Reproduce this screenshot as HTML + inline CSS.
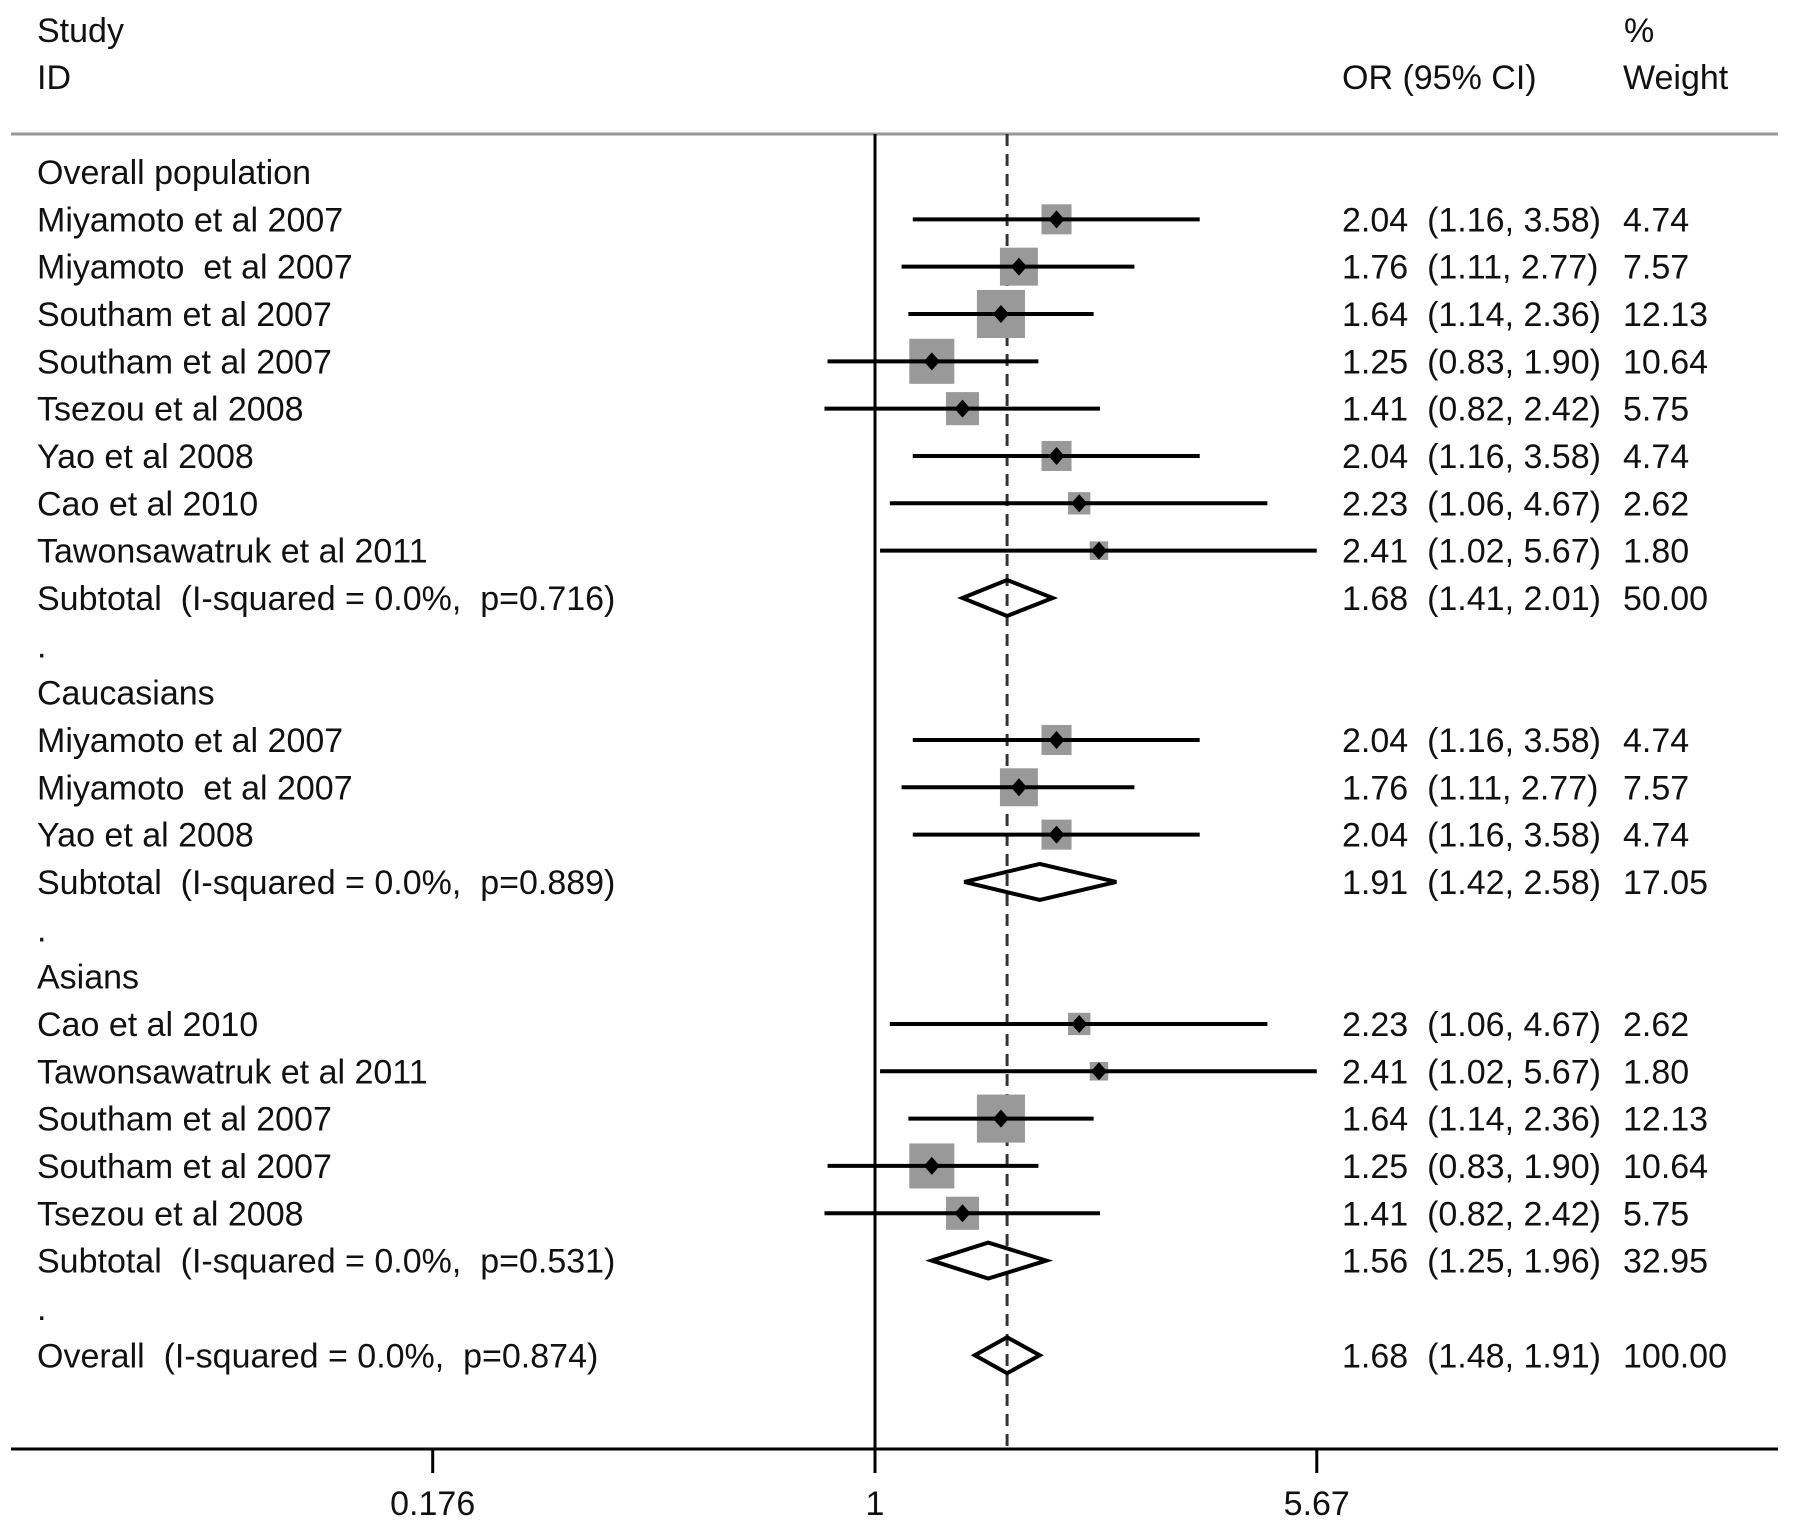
<!DOCTYPE html>
<html><head><meta charset="utf-8"><style>
html,body{margin:0;padding:0;background:#fff;}
svg text{font-family:"Liberation Sans",Arial,sans-serif;font-size:34px;fill:#111;white-space:pre;}
</style></head><body>
<svg id="chart" width="1795" height="1535" xmlns="http://www.w3.org/2000/svg" xml:space="preserve">
<text x="37" y="42">Study</text>
<text x="37" y="89">ID</text>
<text x="1624" y="42">%</text>
<text x="1342" y="89">OR (95% CI)</text>
<text x="1623" y="89">Weight</text>
<line x1="11" y1="134" x2="1778" y2="134" stroke="#999" stroke-width="3"/>
</svg>
<script>
const labels=["Overall population","Miyamoto et al 2007","Miyamoto  et al 2007","Southam et al 2007","Southam et al 2007","Tsezou et al 2008","Yao et al 2008","Cao et al 2010","Tawonsawatruk et al 2011","Subtotal  (I-squared = 0.0%,  p=0.716)",".","Caucasians","Miyamoto et al 2007","Miyamoto  et al 2007","Yao et al 2008","Subtotal  (I-squared = 0.0%,  p=0.889)",".","Asians","Cao et al 2010","Tawonsawatruk et al 2011","Southam et al 2007","Southam et al 2007","Tsezou et al 2008","Subtotal  (I-squared = 0.0%,  p=0.531)",".","Overall  (I-squared = 0.0%,  p=0.874)"];
const types=["h","s","s","s","s","s","s","s","s","d","b","h","s","s","s","d","b","h","s","s","s","s","s","d","b","d"];
const orVals=[null,2.04,1.76,1.64,1.25,1.41,2.04,2.23,2.41,1.68,null,null,2.04,1.76,2.04,1.91,null,null,2.23,2.41,1.64,1.25,1.41,1.56,null,1.68];
const lowVals=[null,1.16,1.11,1.14,0.83,0.82,1.16,1.06,1.02,1.41,null,null,1.16,1.11,1.16,1.42,null,null,1.06,1.02,1.14,0.83,0.82,1.25,null,1.48];
const highVals=[null,3.58,2.77,2.36,1.90,2.42,3.58,4.67,5.67,2.01,null,null,3.58,2.77,3.58,2.58,null,null,4.67,5.67,2.36,1.90,2.42,1.96,null,1.91];
const weights=[null,4.74,7.57,12.13,10.64,5.75,4.74,2.62,1.80,50.00,null,null,4.74,7.57,4.74,17.05,null,null,2.62,1.80,12.13,10.64,5.75,32.95,null,100.00];
const ticks=[0.176,1,5.67];
const tickLabels=["0.176","1","5.67"];
const overallEst=1.68;

const svg=document.getElementById('chart');
const NS='http://www.w3.org/2000/svg';
const X=v=>875+254.6*Math.log(v);
const Y=i=>172+47.33*i;
const axisY=1449;
function mk(tag,attrs){const e=document.createElementNS(NS,tag);for(const k in attrs)e.setAttribute(k,attrs[k]);svg.appendChild(e);return e;}
const f=v=>v.toFixed(2);

let e=mk('line',{x1:X(1),y1:134,x2:X(1),y2:axisY,stroke:'#000','stroke-width':3});


e=mk('line',{x1:X(overallEst),y1:134,x2:X(overallEst),y2:axisY,stroke:'#333','stroke-width':3,'stroke-dasharray':'12 8'});


e=mk('line',{x1:11,y1:axisY,x2:1778,y2:axisY,stroke:'#000','stroke-width':3});


ticks.forEach((t,k)=>{
  let tl=mk('line',{x1:X(t),y1:axisY,x2:X(t),y2:axisY+24,stroke:'#000','stroke-width':3});
  
  
  let tx=mk('text',{x:X(t),y:axisY+66,'text-anchor':'middle'});
  tx.textContent=tickLabels[k];
  
  
});

labels.forEach((lab,i)=>{
  const y=Y(i);
  const t=mk('text',{x:37,y:y+12});
  t.textContent=lab;
  
  
  if(orVals[i]==null)return;
  const o=orVals[i],lo=lowVals[i],hi=highVals[i],w=weights[i];
  if(types[i]==='s'){
    const s=13.8*Math.sqrt(w);
    const sq=mk('rect',{x:X(o)-s/2,y:y-s/2,width:s,height:s,fill:'#999'});
    
    
    const ci=mk('line',{x1:X(lo),y1:y,x2:X(hi),y2:y,stroke:'#000','stroke-width':4});
    
    
    const p=mk('polygon',{points:`${X(o)-8},${y} ${X(o)},${y-9} ${X(o)+8},${y} ${X(o)},${y+9}`,fill:'#000'});
    
    
  } else {
    const h=18;
    const d=mk('polygon',{points:`${X(lo)},${y} ${X(o)},${y-h} ${X(hi)},${y} ${X(o)},${y+h}`,fill:'none',stroke:'#000','stroke-width':4});
    
    
  }
  const c1=mk('text',{x:1342,y:y+12});
  c1.textContent=`${f(o)}  (${f(lo)}, ${f(hi)})`;
  
  
  const c2=mk('text',{x:1623,y:y+12});
  c2.textContent=f(w);
  
  
});
</script>
</body></html>
